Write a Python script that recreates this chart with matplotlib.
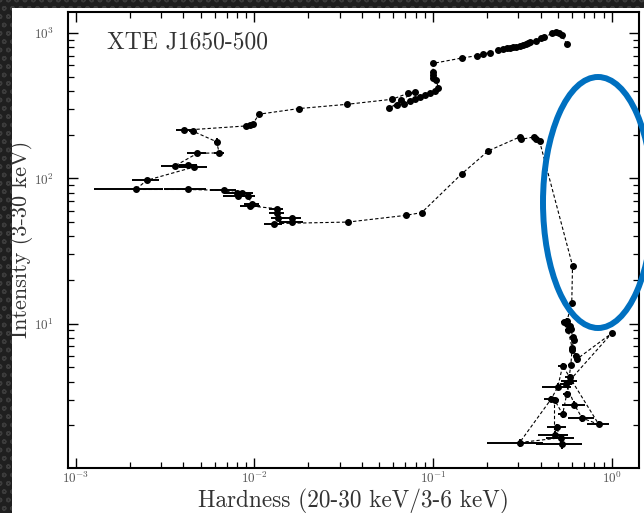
import numpy as np
import matplotlib
matplotlib.use("Agg")
import matplotlib.pyplot as plt
from matplotlib.patches import Ellipse, Rectangle

plt.rcParams["font.family"] = "serif"
plt.rcParams["font.serif"] = ["cmr10", "DejaVu Serif"]
plt.rcParams["mathtext.fontset"] = "cm"
plt.rcParams["axes.formatter.use_mathtext"] = True

# hardness-intensity track of the outburst, in time order
hardness = [
    0.56, 0.525, 0.505, 0.485, 0.465, 0.42, 0.40, 0.375, 0.35, 0.34, 0.33, 0.318,
    0.305, 0.29, 0.28, 0.27, 0.26, 0.245, 0.23, 0.207, 0.19, 0.175, 0.145, 0.1,
    0.1, 0.1, 0.1, 0.104,
    0.107, 0.102, 0.096, 0.09, 0.084, 0.079, 0.074, 0.069, 0.063, 0.057,
    0.066, 0.079, 0.072, 0.059,
    0.033, 0.0178, 0.0106, 0.0098, 0.0094, 0.0090,
    0.00403, 0.00451, 0.00614, 0.00635, 0.00479, 0.00359, 0.00427, 0.0046,
    0.00249, 0.00217,
    0.00423, 0.00675, 0.00794, 0.00857, 0.00811, 0.00922, 0.00964, 0.0095,
    0.0133, 0.0133, 0.0136, 0.0163, 0.0162, 0.0128,
    0.0334, 0.0702, 0.0863, 0.1445, 0.2039, 0.305, 0.311, 0.366, 0.377, 0.394,
    0.603, 0.597,
    0.562, 0.542, 0.58, 0.591, 0.604, 0.611, 0.597, 0.627, 0.637, 1.0,
    0.58, 0.556, 0.618, 0.682, 0.845, 0.58, 0.531, 0.499, 0.458, 0.305,
    0.521, 0.527, 0.492, 0.478, 0.478, 0.531, 0.56, 0.59, 0.60, 0.57, 0.56,
]
intensity = [
    840, 975, 1010, 1020, 1000, 940, 920, 890, 865, 855, 845, 830,
    815, 805, 800, 795, 790, 780, 770, 735, 720, 700, 675, 620,
    545, 515, 490, 475,
    420, 400, 388, 377, 366, 352, 340, 327, 318, 304,
    345, 395, 385, 351,
    324, 303, 277, 237, 233, 230,
    215, 212, 179, 150, 149, 122, 123, 120,
    97, 84,
    84, 82.8, 79.4, 80, 75.4, 75.4, 67.1, 64.6,
    62, 57.8, 53.4, 53.4, 50.4, 48.9,
    50.1, 55.7, 58.2, 107.5, 155, 193, 186, 193, 188, 181,
    25.1, 13.9,
    10.5, 10.2, 9.7, 9.2, 8.05, 7.7, 6.6, 6.0, 5.7, 8.6,
    4.05, 3.85, 2.77, 2.24, 2.03, 4.3, 5.14, 3.68, 3.03, 1.52,
    1.64, 1.48, 1.93, 1.72, 2.99, 2.38, 3.3, 5.2, 6.8, 9.0, 10.0,
]
hardness_err = [
    0, 0, 0, 0, 0, 0, 0, 0, 0, 0, 0, 0,
    0, 0, 0, 0, 0, 0, 0, 0, 0, 0, 0, 0,
    0, 0, 0, 0,
    0, 0, 0, 0, 0, 0, 0, 0, 0, 0,
    0, 0, 0, 0,
    0, 0, 0, 0, 0, 0,
    0.0004, 0.0002, 0.0002, 0.0004, 0.0006, 0.0006, 0.0005, 0.0008,
    0.00043, 0.0009,
    0.0011, 0.0011, 0.0012, 0.0013, 0.0014, 0.0008, 0.0009, 0.0012,
    0.0012, 0.0013, 0.0012, 0.002, 0.0025, 0.0015,
    0, 0, 0, 0, 0, 0, 0, 0, 0, 0,
    0, 0.01,
    0.01, 0.02, 0.02, 0.02, 0.02, 0.02, 0.02, 0.02, 0.02, 0,
    0.06, 0.04, 0.09, 0.11, 0.12, 0.03, 0.03, 0.09, 0.04, 0.105,
    0.09, 0.15, 0.06, 0.09, 0.03, 0.03, 0.03, 0.02, 0.02, 0.02, 0.02,
]
intensity_err = [
    0, 0, 0, 0, 0, 0, 0, 0, 0, 0, 0, 0,
    0, 0, 0, 0, 0, 0, 0, 0, 0, 0, 0, 0,
    0, 0, 0, 0,
    0, 0, 0, 0, 0, 0, 0, 0, 0, 0,
    0, 0, 0, 0,
    0, 0, 0, 0, 0, 0,
    0, 0, 10, 0, 0, 0, 0, 0,
    0, 0,
    0, 0, 0, 0, 0, 0, 0, 0,
    2, 2, 2, 2, 2, 0,
    0, 0, 0, 0, 0, 0, 0, 0, 0, 0,
    0, 0,
    0.4, 0.4, 0.4, 0.4, 0.3, 0.3, 0.3, 0.3, 0.3, 0,
    0.2, 0.2, 0.15, 0.12, 0.1, 0.2, 0.2, 0.2, 0.15, 0.1,
    0.1, 0.1, 0.1, 0.1, 0.15, 0.12, 0.15, 0.2, 0.25, 0.3, 0.4,
]

W, H = 644, 513
fig = plt.figure(figsize=(W / 100, H / 100), dpi=100)

# dark textured frame on the left and top edges
fig.patches.append(Rectangle((0, 0), 1, 1, transform=fig.transFigure,
                             facecolor="#1f1f1f", edgecolor="#3c3c3c",
                             hatch="oo", lw=0, zorder=-10))
fig.patches.append(Rectangle((12 / W, 0), 1, 1 - 8 / H, transform=fig.transFigure,
                             facecolor="white", lw=0, zorder=-9))

ax = fig.add_axes([68 / W, 1 - 467.7 / H, (639 - 68) / W, (467.7 - 12) / H])
ax.set_facecolor("none")

ax.plot(hardness, intensity, ls=(0, (3, 2)), color="k", lw=0.8, zorder=2)
ax.errorbar(hardness, intensity, xerr=hardness_err, yerr=intensity_err,
            fmt="o", ms=4, color="k", ecolor="k", elinewidth=1.4,
            capsize=0, zorder=3)

ax.set_xscale("log")
ax.set_yscale("log")
ax.set_xlim(9.05e-4, 1.42)
ax.set_ylim(1.02, 1400)

for s in ax.spines.values():
    s.set_linewidth(1.5)
ax.tick_params(which="both", direction="in", top=True, right=True,
               colors="k", labelcolor="#555555", labelsize=9.5)
ax.tick_params(which="major", length=7, width=1.0)
ax.tick_params(which="minor", length=4, width=0.9)
ax.tick_params(axis="x", which="both", pad=2)
ax.tick_params(axis="y", which="both", pad=10)

ax.set_xlabel("Hardness (20-30 keV/3-6 keV)", fontsize=16.8, color="#333333",
              labelpad=2)
ax.set_ylabel("Intensity (3-30 keV)", fontsize=16, color="#333333")
ax.yaxis.set_label_coords(-0.061, 0.5)
ax.text(0.068, 0.92, "XTE J1650-500", transform=ax.transAxes,
        fontsize=17, color="#333333", va="baseline", ha="left")

# highlight around the hard-state descent
fig.add_artist(Ellipse((598 / W, 1 - 202.5 / H), 110 / W, 251 / H,
                       transform=fig.transFigure, fill=False,
                       edgecolor="#0070C0", lw=4.3, zorder=10, clip_on=False))

fig.savefig("out.png", dpi=100)
